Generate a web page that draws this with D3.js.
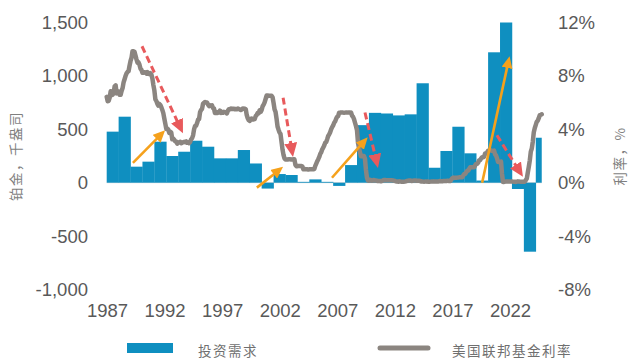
<!DOCTYPE html>
<html>
<head>
<meta charset="utf-8">
<script src="https://cdn.jsdelivr.net/npm/d3@7/dist/d3.min.js"></script>
<style>
  html, body { margin: 0; padding: 0; background: #ffffff; }
  svg { display: block; }
  .tick text { font-family: "Liberation Sans", Arial, sans-serif; }
</style>
</head>
<body>
<svg id="chart" width="630" height="359"></svg>
<script>
// Platinum investment demand (koz) per year
const years = [1987, 1988, 1989, 1990, 1991, 1992, 1993, 1994, 1995, 1996,
  1997, 1998, 1999, 2000, 2001, 2002, 2003, 2004, 2005, 2006,
  2007, 2008, 2009, 2010, 2011, 2012, 2013, 2014, 2015, 2016,
  2017, 2018, 2019, 2020, 2021, 2022, 2023];
const investment = [478, 618, 150, 197, 384, 250, 290, 393, 337, 228,
  228, 306, 180, -55, 81, 72, 8, 31, 8, -30,
  165, 539, 654, 648, 630, 640, 931, 140, 297, 524,
  275, 20, 1221, 1500, -59, -646, 421];

// US effective federal funds rate (%), monthly from Jan 1987
const rateStartYear = 1987;
const fedFundsMonthly = [
  6.43, 6.10, 6.13, 6.37, 6.85, 6.73, 6.58, 6.73, 7.22, 7.29, 6.69, 6.77,
  6.83, 6.58, 6.58, 6.87, 7.09, 7.51, 7.75, 8.01, 8.19, 8.30, 8.35, 8.76,
  9.12, 9.36, 9.85, 9.84, 9.81, 9.53, 9.24, 8.99, 9.02, 8.84, 8.55, 8.45,
  8.23, 8.24, 8.28, 8.26, 8.18, 8.29, 8.15, 8.13, 8.20, 8.11, 7.81, 7.31,
  6.91, 6.25, 6.12, 5.91, 5.78, 5.90, 5.82, 5.66, 5.45, 5.21, 4.81, 4.43,
  4.03, 4.06, 3.98, 3.73, 3.82, 3.76, 3.25, 3.30, 3.22, 3.10, 3.09, 2.92,
  3.02, 3.03, 3.07, 2.96, 3.00, 3.04, 3.06, 3.03, 3.09, 2.99, 3.02, 2.96,
  3.05, 3.25, 3.34, 3.56, 4.01, 4.25, 4.26, 4.47, 4.73, 4.76, 5.29, 5.45,
  5.53, 5.92, 5.98, 6.05, 6.01, 6.00, 5.85, 5.74, 5.80, 5.76, 5.80, 5.60,
  5.56, 5.22, 5.31, 5.22, 5.24, 5.27, 5.40, 5.22, 5.30, 5.24, 5.31, 5.29,
  5.25, 5.19, 5.39, 5.51, 5.50, 5.56, 5.52, 5.54, 5.54, 5.50, 5.52, 5.50,
  5.56, 5.51, 5.49, 5.45, 5.49, 5.56, 5.54, 5.55, 5.51, 5.07, 4.83, 4.68,
  4.63, 4.76, 4.81, 4.74, 4.74, 4.76, 4.99, 5.07, 5.22, 5.20, 5.42, 5.30,
  5.45, 5.73, 5.85, 6.02, 6.27, 6.53, 6.54, 6.50, 6.52, 6.51, 6.51, 6.40,
  5.98, 5.49, 5.31, 4.80, 4.21, 3.97, 3.77, 3.65, 3.07, 2.49, 2.09, 1.82,
  1.73, 1.74, 1.73, 1.75, 1.75, 1.75, 1.73, 1.74, 1.75, 1.75, 1.34, 1.24,
  1.24, 1.26, 1.25, 1.26, 1.26, 1.22, 1.01, 1.03, 1.01, 1.01, 1.00, 0.98,
  1.00, 1.01, 1.00, 1.00, 1.00, 1.03, 1.26, 1.43, 1.61, 1.76, 1.93, 2.16,
  2.28, 2.50, 2.63, 2.79, 3.00, 3.04, 3.26, 3.50, 3.62, 3.78, 4.00, 4.16,
  4.29, 4.49, 4.59, 4.79, 4.94, 4.99, 5.24, 5.25, 5.25, 5.25, 5.25, 5.24,
  5.25, 5.26, 5.26, 5.25, 5.25, 5.25, 5.26, 5.02, 4.94, 4.76, 4.49, 4.24,
  3.94, 2.98, 2.61, 2.28, 1.98, 2.00, 2.01, 2.00, 1.81, 0.97, 0.39, 0.16,
  0.15, 0.22, 0.18, 0.15, 0.18, 0.21, 0.16, 0.16, 0.15, 0.12, 0.12, 0.12,
  0.11, 0.13, 0.16, 0.20, 0.20, 0.18, 0.18, 0.19, 0.19, 0.19, 0.19, 0.18,
  0.17, 0.16, 0.14, 0.10, 0.09, 0.09, 0.07, 0.10, 0.08, 0.07, 0.08, 0.07,
  0.08, 0.10, 0.13, 0.14, 0.16, 0.16, 0.16, 0.13, 0.14, 0.16, 0.16, 0.16,
  0.14, 0.15, 0.14, 0.15, 0.11, 0.09, 0.09, 0.08, 0.08, 0.09, 0.08, 0.09,
  0.07, 0.07, 0.08, 0.09, 0.09, 0.10, 0.09, 0.09, 0.09, 0.09, 0.09, 0.12,
  0.11, 0.11, 0.11, 0.12, 0.12, 0.13, 0.13, 0.14, 0.14, 0.12, 0.12, 0.24,
  0.34, 0.38, 0.36, 0.37, 0.37, 0.38, 0.39, 0.40, 0.40, 0.40, 0.41, 0.54,
  0.65, 0.66, 0.79, 0.90, 0.91, 1.04, 1.15, 1.16, 1.15, 1.15, 1.16, 1.30,
  1.41, 1.42, 1.51, 1.69, 1.70, 1.82, 1.91, 1.91, 1.95, 2.19, 2.20, 2.27,
  2.40, 2.40, 2.41, 2.42, 2.39, 2.38, 2.40, 2.13, 2.04, 1.83, 1.55, 1.55,
  1.55, 1.58, 0.65, 0.05, 0.05, 0.08, 0.09, 0.10, 0.09, 0.09, 0.09, 0.09,
  0.09, 0.08, 0.07, 0.07, 0.06, 0.08, 0.10, 0.09, 0.08, 0.08, 0.08, 0.08,
  0.08, 0.08, 0.20, 0.33, 0.77, 1.21, 1.68, 2.33, 2.56, 3.08, 3.78, 4.10,
  4.33, 4.57, 4.65, 4.83, 5.06, 5.08, 5.12
];

// Axis ticks
const demandTicks = [-1000, -500, 0, 500, 1000, 1500];
const rateTicks = [-8, -4, 0, 4, 8, 12];
const yearTicks = [1987, 1992, 1997, 2002, 2007, 2012, 2017, 2022];

// Annotation arrows in (year, rate %) space: [x0, y0, x1, y1]
const fallArrows = [
  [1989.96, 10.22, 1993.4, 3.7],
  [2001.8, 6.37, 2002.63, 1.93],
  [2008.67, 5.26, 2009.76, 1.11],
  [2019.74, 3.56, 2021.92, 0.44]
];
const riseArrows = [
  [1989.2, 1.48, 1991.9, 3.93],
  [1999.6, -0.37, 2001.8, 1.19],
  [2005.9, 0.37, 2008.9, 3.41],
  [2018.5, 0.0, 2020.8, 9.48]
];

const legendItems = ["投资需求", "美国联邦基金利率"];

const BAR = "#0f8fc0";
const LINE = "#8b8580";
const ORANGE = "#f5a11c";
const RED = "#e85a5c";
const TEXT = "#595959";

const svg = d3.select("#chart");

const x = d3.scaleLinear().domain([1987, 2024]).range([106.7, 547.7]);
const yDemand = d3.scaleLinear().domain([-1000, 1500]).range([289.5, 22.5]);
const yRate = d3.scaleLinear().domain([-8, 12]).range([289.5, 22.5]);
const xLabel = d3.scaleLinear().domain([1987, 2022]).range([107, 510]);

const locale = d3.formatLocale({ decimal: ".", thousands: ",", grouping: [3], currency: ["", ""], minus: "-" });
const fmtComma = locale.format(",");

// Plot clip (the last bar is cut at mid-year)
svg.append("defs").append("clipPath").attr("id", "plotClip")
  .append("rect")
  .attr("x", x(1987) - 2).attr("y", 0)
  .attr("width", x(2023.5) - x(1987) + 2).attr("height", 359);

// Zero line
svg.append("line")
  .attr("x1", x(1987)).attr("x2", x(2023.5))
  .attr("y1", yDemand(0)).attr("y2", yDemand(0))
  .attr("stroke", "#d9d9d9").attr("stroke-width", 1);

// Bars
svg.append("g").attr("clip-path", "url(#plotClip)")
  .selectAll("rect").data(years).join("rect")
  .attr("x", d => x(d))
  .attr("width", d => x(d + 1) - x(d) + 0.3)
  .attr("y", (d, i) => Math.min(yDemand(0), yDemand(investment[i])))
  .attr("height", (d, i) => Math.abs(yDemand(investment[i]) - yDemand(0)))
  .attr("fill", BAR);

// Fed funds line
const line = d3.line()
  .x((d, i) => x(rateStartYear + i / 12))
  .y(d => yRate(d));
svg.append("path")
  .datum(fedFundsMonthly)
  .attr("d", line)
  .attr("fill", "none")
  .attr("stroke", LINE)
  .attr("stroke-width", 4.5)
  .attr("stroke-linejoin", "round")
  .attr("stroke-linecap", "round");

// Arrowheads
const defs = svg.select("defs");
function head(id, color, len, wid) {
  defs.append("marker")
    .attr("id", id)
    .attr("markerUnits", "userSpaceOnUse")
    .attr("viewBox", `0 0 ${len} ${wid}`)
    .attr("refX", len).attr("refY", wid / 2)
    .attr("markerWidth", len).attr("markerHeight", wid)
    .attr("orient", "auto")
    .append("path")
    .attr("d", `M0,0L${len},${wid / 2}L0,${wid}Z`)
    .attr("fill", color);
}
head("headRed", RED, 14, 13);
head("headOrange", ORANGE, 12, 11);

function drawArrows(list, color, markerId, width, dash, headLen) {
  svg.append("g").selectAll("g").data(list).join("g").each(function (a) {
    const g = d3.select(this);
    const x0 = x(a[0]), y0 = yRate(a[1]), x1 = x(a[2]), y1 = yRate(a[3]);
    const L = Math.hypot(x1 - x0, y1 - y0);
    const ux = (x1 - x0) / L, uy = (y1 - y0) / L;
    // shaft stops where the head begins
    g.append("line")
      .attr("x1", x0).attr("y1", y0)
      .attr("x2", x1 - ux * (headLen - 1)).attr("y2", y1 - uy * (headLen - 1))
      .attr("stroke", color).attr("stroke-width", width)
      .attr("stroke-dasharray", dash);
    g.append("line")
      .attr("x1", x1 - ux * headLen).attr("y1", y1 - uy * headLen)
      .attr("x2", x1).attr("y2", y1)
      .attr("stroke", "none")
      .attr("marker-end", `url(#${markerId})`);
  });
}
drawArrows(fallArrows, RED, "headRed", 3, "7,4", 14);
drawArrows(riseArrows, ORANGE, "headOrange", 2.6, null, 12);

// Left axis
const axL = svg.append("g").attr("transform", "translate(96,0)")
  .call(d3.axisLeft(yDemand).tickValues(demandTicks).tickFormat(fmtComma).tickSize(0).tickPadding(8));
axL.select(".domain").remove();
axL.selectAll("text").attr("font-size", 18.5).attr("fill", TEXT);

// Right axis
const axR = svg.append("g").attr("transform", "translate(550,0)")
  .call(d3.axisRight(yRate).tickValues(rateTicks).tickFormat(d => d + "%").tickSize(0).tickPadding(8));
axR.select(".domain").remove();
axR.selectAll("text").attr("font-size", 18.5).attr("fill", TEXT);

// Bottom axis
const axB = svg.append("g").attr("transform", "translate(0,300)")
  .call(d3.axisBottom(xLabel).tickValues(yearTicks).tickFormat(d => String(d)).tickSize(0).tickPadding(4));
axB.select(".domain").remove();
axB.selectAll("text").attr("font-size", 18.5).attr("fill", TEXT);

// Axis titles
const cjk = '"Noto Sans CJK SC", sans-serif';
svg.append("text")
  .attr("transform", "translate(15,156) rotate(-90)")
  .attr("text-anchor", "middle").attr("dominant-baseline", "central")
  .attr("font-family", cjk).attr("font-size", 13.5).attr("letter-spacing", 1.5)
  .attr("fill", "#7f7f7f")
  .text("铂金，千盎司");
svg.append("text")
  .attr("transform", "translate(619,156) rotate(-90)")
  .attr("text-anchor", "middle").attr("dominant-baseline", "central")
  .attr("font-family", cjk).attr("font-size", 13.5).attr("letter-spacing", 1.5)
  .attr("fill", "#7f7f7f")
  .text("利率，%");

// Legend
const lg = svg.append("g");
lg.append("rect").attr("x", 127).attr("y", 343).attr("width", 46).attr("height", 10).attr("fill", BAR);
lg.append("text").attr("x", 198).attr("y", 350)
  .attr("dominant-baseline", "central")
  .attr("font-family", cjk).attr("font-size", 13.5).attr("letter-spacing", 1.5)
  .attr("fill", "#6f6f6f")
  .text(legendItems[0]);
lg.append("line").attr("x1", 380).attr("x2", 428).attr("y1", 348).attr("y2", 348)
  .attr("stroke", LINE).attr("stroke-width", 5).attr("stroke-linecap", "round");
lg.append("text").attr("x", 452).attr("y", 350)
  .attr("dominant-baseline", "central")
  .attr("font-family", cjk).attr("font-size", 13.5).attr("letter-spacing", 1.5)
  .attr("fill", "#6f6f6f")
  .text(legendItems[1]);
</script>
</body>
</html>
